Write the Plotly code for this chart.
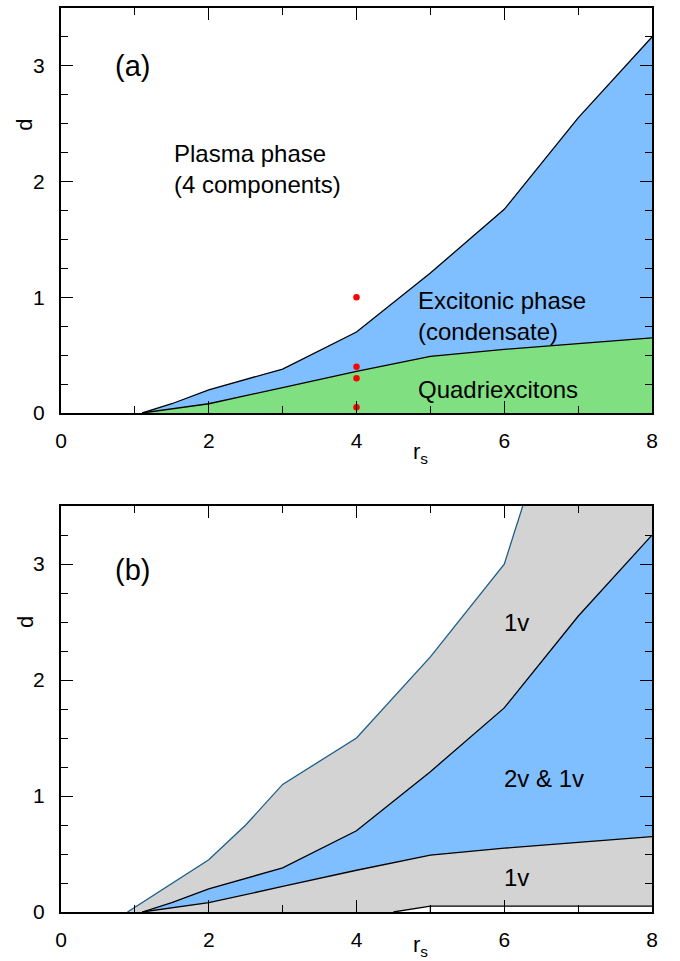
import plotly.graph_objects as go

# ---- data ----
rs_upper = [1.1, 1.5, 2, 3, 4, 5, 6, 7, 8]
d_upper = [0.0, 0.08, 0.2, 0.38, 0.70, 1.21, 1.76, 2.55, 3.25]

rs_lower = [1.1, 2, 3, 4, 5, 6, 7, 8]
d_lower = [0.0, 0.08, 0.22, 0.36, 0.49, 0.55, 0.60, 0.65]

rs_outer = [0.9, 2, 2.5, 3, 4, 5, 6, 6.25]
d_outer = [0.0, 0.45, 0.75, 1.1, 1.5, 2.2, 3.0, 3.5]

rs_bottom = [4.5, 5, 8]
d_bottom = [0.0, 0.05, 0.05]

rs_dots = [4, 4, 4, 4]
d_dots = [1.0, 0.40, 0.30, 0.05]

X_MAX = 8
Y_MAX = 3.5

BLUE = "#80BFFF"
GREEN = "#80DF80"
GRAY = "#D3D3D3"
FONT = "Liberation Sans, Arial, Helvetica, sans-serif"

fig = go.Figure()

def poly(x, y, color, xa, ya):
    fig.add_trace(go.Scatter(x=x, y=y, mode="lines", fill="toself", fillcolor=color,
                             line=dict(width=0), hoverinfo="skip", showlegend=False,
                             xaxis=xa, yaxis=ya))

def line(x, y, xa, ya, color="black", width=1.3):
    fig.add_trace(go.Scatter(x=x, y=y, mode="lines", line=dict(color=color, width=width),
                             hoverinfo="skip", showlegend=False, xaxis=xa, yaxis=ya))

# ---- panel (a) ----
poly(rs_upper + [X_MAX], d_upper + [0], BLUE, "x", "y")
poly(rs_lower + [X_MAX], d_lower + [0], GREEN, "x", "y")
line(rs_upper, d_upper, "x", "y")
line(rs_lower, d_lower, "x", "y")
fig.add_trace(go.Scatter(x=rs_dots, y=d_dots, mode="markers",
                         marker=dict(color="#FF0000", size=6.5), showlegend=False,
                         hoverinfo="skip", xaxis="x", yaxis="y"))

# ---- panel (b) ----
poly(rs_outer + [X_MAX, X_MAX], d_outer + [Y_MAX, 0], GRAY, "x2", "y2")
poly(rs_upper + rs_lower[::-1], d_upper + d_lower[::-1], BLUE, "x2", "y2")
poly(rs_bottom + [X_MAX], d_bottom + [0], "white", "x2", "y2")
line(rs_outer, d_outer, "x2", "y2", color="#1B5E8A", width=1.3)
line(rs_upper, d_upper, "x2", "y2")
line(rs_lower, d_lower, "x2", "y2")
line(rs_bottom, d_bottom, "x2", "y2")
line([rs_bottom[1], rs_bottom[1]], [0, d_bottom[1]], "x2", "y2")

axis_common = dict(showline=True, linewidth=2, linecolor="black", mirror="ticks",
                   ticks="inside", tickcolor="black", tickwidth=1.2, showgrid=False,
                   zeroline=False, automargin=False,
                   tickfont=dict(family=FONT, size=21, color="black"))

xa = dict(axis_common, range=[0, X_MAX], dtick=2, tick0=0, ticklen=12,
          minor=dict(dtick=1, ticks="inside", ticklen=7, tickcolor="black", tickwidth=1.2),
          ticklabelstandoff=8)
ya = dict(axis_common, range=[0, Y_MAX], dtick=1, tick0=0, ticklen=12,
          minor=dict(dtick=0.25, ticks="inside", ticklen=7, tickcolor="black", tickwidth=1.2),
          ticklabelstandoff=10)

fig.update_layout(
    width=680, height=961,
    margin=dict(l=61, r=28, t=8, b=49, autoexpand=False),
    plot_bgcolor="white", paper_bgcolor="white",
    font=dict(family=FONT, size=21, color="black"),
    xaxis=dict(xa, domain=[0, 1], anchor="y"),
    yaxis=dict(ya, domain=[0.552, 1.0], anchor="x"),
    xaxis2=dict(xa, domain=[0, 1], anchor="y2"),
    yaxis2=dict(ya, domain=[0, 0.449], anchor="x2"),
)

def txt(x, y, s, xref, yref, size=24, xanchor="left"):
    fig.add_annotation(x=x, y=y, xref=xref, yref=yref, text=s, showarrow=False,
                       xanchor=xanchor, yanchor="middle", align="left",
                       font=dict(family=FONT, size=size, color="black"))

# panel (a) texts
txt(0.70, 3.0, "(a)", "x", "y", size=29)
txt(1.5, 2.11, "Plasma phase<br>(4 components)", "x", "y")
txt(4.8, 0.84, "Excitonic phase<br>(condensate)", "x", "y")
txt(4.8, 0.2, "Quadriexcitons", "x", "y")
# panel (b) texts
txt(0.70, 2.95, "(b)", "x2", "y2", size=29)
txt(6.17, 2.5, "1v", "x2", "y2", xanchor="center")
txt(6.54, 1.15, "2v &amp; 1v", "x2", "y2", xanchor="center")
txt(6.17, 0.30, "1v", "x2", "y2", xanchor="center")

# axis titles
fig.add_annotation(x=-0.061, y=0.552 + 2.49 / Y_MAX * 0.448, xref="paper", yref="paper",
                   text="d", showarrow=False, textangle=-90, xanchor="center",
                   yanchor="middle", font=dict(family=FONT, size=22))
fig.add_annotation(x=-0.061, y=2.5 / Y_MAX * 0.449, xref="paper", yref="paper", text="d",
                   showarrow=False, textangle=-90, xanchor="center", yanchor="middle",
                   font=dict(family=FONT, size=22))
fig.add_annotation(x=4.86, y=0.552, xref="x", yref="paper", yshift=-40, text="r<sub>s</sub>",
                   showarrow=False, xanchor="center", yanchor="middle",
                   font=dict(family=FONT, size=22))
fig.add_annotation(x=4.86, y=0.0, xref="x2", yref="paper", yshift=-34, text="r<sub>s</sub>",
                   showarrow=False, xanchor="center", yanchor="middle",
                   font=dict(family=FONT, size=22))

fig.write_html("out.html", config={"displayModeBar": False},
               post_script="document.body.style.margin='0';document.body.style.overflow='hidden';")
